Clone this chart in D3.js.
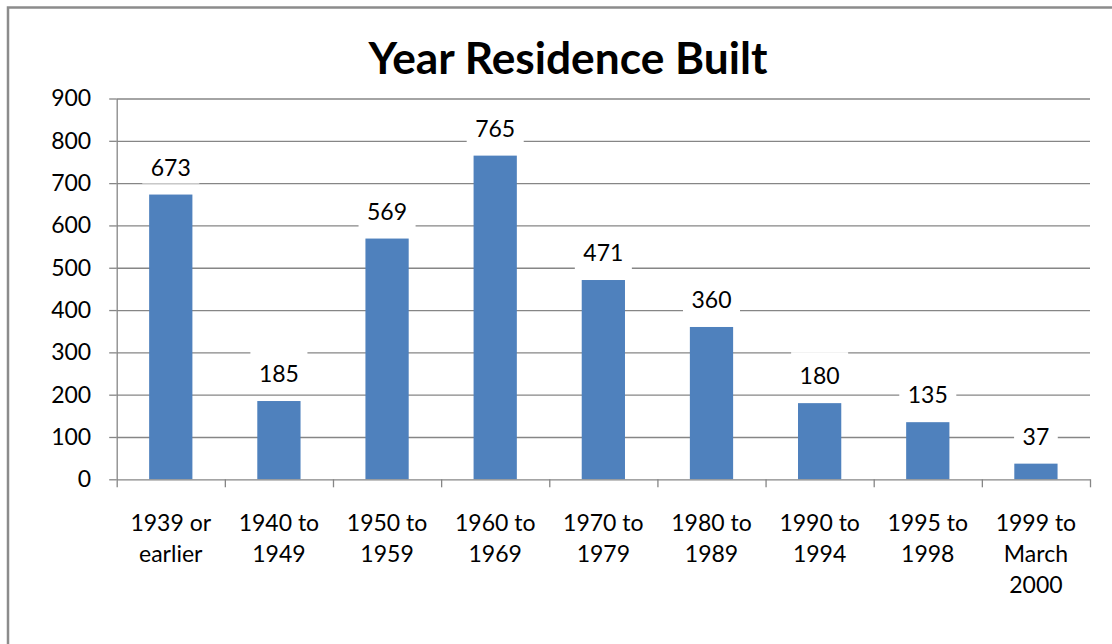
<!DOCTYPE html>
<html>
<head>
<meta charset="utf-8">
<script src="https://cdn.jsdelivr.net/npm/d3@7"></script>
<style>
html,body{margin:0;padding:0;background:#fff;}
svg{display:block;}
text{font-family:Lato,"Open Sans",sans-serif;fill:#000;}
</style>
</head>
<body>
<svg id="chart" width="1112" height="644"></svg>
<script>
const title = "Year Residence Built";
const categories = [["1939 or","earlier"],["1940 to","1949"],["1950 to","1959"],["1960 to","1969"],["1970 to","1979"],["1980 to","1989"],["1990 to","1994"],["1995 to","1998"],["1999 to","March","2000"]];
const values = [673,185,569,765,471,360,180,135,37];
const yTicks = [0,100,200,300,400,500,600,700,800,900];

const svg = d3.select("#chart");
const pLeft = 116.7, pRight = 1090, pTop = 98.5, pBottom = 479.3;
const grey = "#868686";

// frame
svg.append("rect").attr("x",8).attr("y",7.5).attr("width",1120).attr("height",660)
  .attr("fill","none").attr("stroke","#8c8c8c").attr("stroke-width",2.5);

const idx = d3.range(categories.length);
const x = d3.scaleBand().domain(idx).range([pLeft,pRight]).paddingInner(0.6).paddingOuter(0.3);
const xb = d3.scaleLinear().domain([0,categories.length]).range([pLeft,pRight]);
const y = d3.scaleLinear().domain([0,900]).range([pBottom,pTop]);

// gridlines
const grid = svg.append("g").attr("transform",`translate(${pLeft},0)`)
  .call(d3.axisLeft(y).tickValues(yTicks.slice(1)).tickSize(-(pRight-pLeft)).tickFormat(""));
grid.select(".domain").remove();
grid.selectAll("line").attr("stroke",grey).attr("stroke-width",1.3);

// y axis
const ya = svg.append("g").attr("transform",`translate(${pLeft},0)`)
  .call(d3.axisLeft(y).tickValues(yTicks).tickSize(7.5).tickSizeOuter(0).tickPadding(18));
ya.select(".domain").attr("stroke",grey).attr("stroke-width",1.3);
ya.selectAll("line").attr("stroke",grey).attr("stroke-width",1.3);
ya.selectAll("text").attr("font-size",23).attr("font-family","Lato").attr("fill","#000");

// bars
svg.append("g").selectAll("rect").data(values).join("rect")
  .attr("x",(d,i)=>x(i)).attr("width",x.bandwidth())
  .attr("y",d=>y(d)).attr("height",d=>pBottom-y(d))
  .attr("fill","#4F81BD");

// x axis
const xa = svg.append("g").attr("transform",`translate(0,${pBottom})`)
  .call(d3.axisBottom(xb).tickValues(d3.range(categories.length+1)).tickSize(8).tickSizeOuter(0).tickFormat(""));
xa.select(".domain").attr("stroke",grey).attr("stroke-width",1.3);
xa.selectAll("line").attr("stroke",grey).attr("stroke-width",1.3);

// category labels
const cl = svg.append("g").selectAll("text").data(categories).join("text")
  .attr("text-anchor","middle").attr("font-size",23)
  .attr("x",(d,i)=>x(i)+x.bandwidth()/2);
cl.each(function(d){
  const t = d3.select(this);
  d.forEach((line,j)=>{
    t.append("tspan").attr("x",t.attr("x")).attr("y",530.5+j*31).text(line);
  });
});

// data labels with white boxes
const lg = svg.append("g").selectAll("g").data(values).join("g");
lg.each(function(d,i){
  const g = d3.select(this);
  const cx = x(i)+x.bandwidth()/2;
  const cy = y(d)-27;
  const t = g.append("text").attr("x",cx).attr("y",cy+8).attr("text-anchor","middle")
    .attr("font-size",23).text(d);
  const w = t.node().getComputedTextLength()+17;
  g.insert("rect","text").attr("x",cx-w/2).attr("y",cy-24).attr("width",w).attr("height",40).attr("fill","#fff");
});

// title
const tt = svg.append("text").attr("x",568).attr("y",74).attr("text-anchor","middle")
  .attr("font-weight","bold").attr("font-size",36).text(title);
const tw = tt.node().getComputedTextLength();
tt.attr("font-size",36*399/tw);
</script>
</body>
</html>
